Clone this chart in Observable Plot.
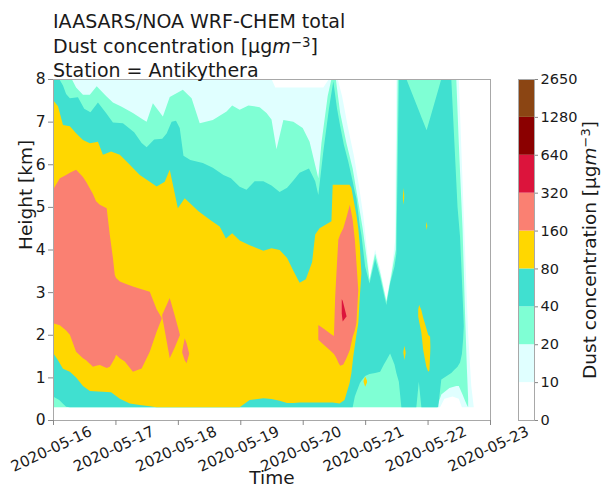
<!DOCTYPE html>
<html>
<head>
<meta charset="utf-8">
<script src="https://cdn.jsdelivr.net/npm/d3@7"></script>
<script src="https://cdn.jsdelivr.net/npm/@observablehq/plot@0.6"></script>
<style>
  html, body { margin: 0; padding: 0; background: white; }
  #wrap { position: relative; width: 607px; height: 492px; overflow: hidden; font-family: "DejaVu Sans", sans-serif; color: #1a1a1a; }
  #wrap svg { position: absolute; left: 0; top: 0; }
  #title { position: absolute; left: 53px; top: 9px; font-size: 19px; line-height: 24.5px; white-space: nowrap; }
  .sup { font-size: 0.7em; vertical-align: 0.45em; line-height: 0; }
  #cblabel { position: absolute; left: 589px; top: 250px; transform: translate(-50%, -50%) rotate(-90deg); font-size: 18.5px; white-space: nowrap; }
</style>
</head>
<body>
<div id="wrap"></div>
<script>
// ---------- data (days after 2020-05-16 00:00 UTC, height km) ----------
// each row: [day, lower height, upper height] of the region at or above a level
const xTickLabels = ["2020-05-16","2020-05-17","2020-05-18","2020-05-19","2020-05-20","2020-05-21","2020-05-22","2020-05-23"];
const yTicks = [0,1,2,3,4,5,6,7,8];
const cbLabels = ["0","10","20","40","80","160","320","640","1280","2650"];
const cbColors = ["#ffffff","#e0ffff","#7fffd4","#40e0d0","#ffd700","#fa8072","#dc143c","#8b0000","#8b4513"];

// >= 10
const band10 = [[0,0.3,8],[3.5,0.3,8],[3.56,0.3,7.8],[4.33,0.3,7.8],[4.42,0.3,8],[4.56,0.3,8],[4.63,0.3,7.6],[4.72,0.3,6.9],[4.82,0.3,6.2],[4.9,0.3,5.5],[4.97,0.3,4.8],[5.03,0.3,4.0],[5.07,0.3,3.32],[5.16,0.3,4.0],[5.24,0.3,3.55],[5.34,0.3,2.82],[5.42,0.3,3.5],[5.48,0.3,4.2],[5.5,0.3,8],[6.2,0.3,8],[6.27,0.5,8],[6.4,0.55,8],[6.5,0.5,8],[6.55,0.3,6],[6.6,0.3,4],[6.65,0.3,2],[6.7,0.3,0.8],[6.74,0.3,0.3]];
// >= 20
const band20 = [[0,0.3,8],[0.3,0.3,8],[0.37,0.3,7.8],[0.48,0.3,7.63],[0.59,0.3,7.63],[0.7,0.3,7.83],[0.85,0.3,7.6],[0.96,0.3,7.45],[1.1,0.3,7.35],[1.28,0.3,7.2],[1.44,0.3,7.05],[1.5,0.3,7.0],[1.6,0.3,7.43],[1.76,0.3,7.12],[1.87,0.3,7.58],[2.08,0.3,7.75],[2.22,0.3,7.55],[2.35,0.3,6.96],[2.56,0.3,7.04],[2.78,0.3,7.24],[2.87,0.3,7.38],[2.99,0.3,7.28],[3.13,0.3,7.38],[3.31,0.3,7.34],[3.42,0.3,7.2],[3.5,0.3,7.05],[3.58,0.3,6.35],[3.69,0.3,7.04],[3.85,0.3,7.0],[4.0,0.3,6.85],[4.11,0.3,6.53],[4.25,0.3,5.67],[4.3,0.3,6.5],[4.4,0.3,7.6],[4.46,0.3,8],[4.53,0.3,8],[4.6,0.3,7.2],[4.7,0.3,6.5],[4.8,0.3,5.9],[4.88,0.3,5.2],[4.96,0.3,4.5],[5.02,0.3,3.85],[5.07,0.3,3.28],[5.16,0.3,3.9],[5.24,0.3,3.45],[5.34,0.3,2.78],[5.42,0.3,3.4],[5.49,0.3,4.0],[5.52,0.3,8],[6.15,0.3,8],[6.22,0.6,8],[6.35,0.75,8],[6.46,0.8,8],[6.5,0.8,6.5],[6.56,0.6,4.5],[6.6,0.45,2.5],[6.63,0.35,1.2],[6.65,0.3,0.5]];
// >= 40
const band40 = [[0,0.55,8],[0.1,0.47,8],[0.16,0.38,7.85],[0.21,0.31,7.65],[0.27,0.3,7.55],[0.4,0.3,7.57],[0.5,0.3,7.3],[0.6,0.3,7.22],[0.72,0.3,7.45],[0.85,0.3,7.2],[0.96,0.3,6.98],[1.12,0.3,6.96],[1.3,0.3,6.75],[1.42,0.3,6.5],[1.5,0.3,6.4],[1.62,0.3,6.58],[1.75,0.3,6.6],[1.82,0.3,6.72],[1.9,0.3,7.0],[1.97,0.3,7.02],[2.03,0.3,6.85],[2.09,0.3,6.2],[2.2,0.3,6.1],[2.4,0.3,6.03],[2.56,0.3,5.92],[2.73,0.3,5.75],[2.85,0.3,5.67],[2.99,0.3,5.47],[3.1,0.3,5.4],[3.23,0.3,5.6],[3.37,0.3,5.6],[3.5,0.3,5.5],[3.63,0.3,5.35],[3.75,0.3,5.45],[3.85,0.3,5.62],[3.95,0.3,5.8],[4.1,0.3,5.9],[4.2,0.3,5.6],[4.25,0.3,5.28],[4.33,0.3,6.3],[4.42,0.3,7.3],[4.49,0.3,7.95],[4.55,0.3,7.3],[4.6,0.3,6.9],[4.66,0.3,6.45],[4.73,0.3,6.06],[4.8,0.3,5.6],[4.835,0.55,5.35],[4.86,0.65,5.2],[4.915,0.86,4.55],[4.94,0.92,4.34],[5.0,1.03,3.6],[5.07,1.08,3.2],[5.16,1.1,3.78],[5.24,1.13,3.35],[5.3,1.3,2.95],[5.34,1.4,2.7],[5.4,1.56,3.2],[5.47,1.3,3.6],[5.5,1.1,3.9],[5.54,0.9,8],[5.58,0.3,8],[5.66,0.3,8],[5.82,0.3,7.41],[5.86,0.9,7.26],[5.9,0.3,7.11],[5.985,0.3,6.8],[6.17,0.3,7.74],[6.22,0.95,8],[6.38,1.1,8],[6.43,1.18,6.5],[6.48,1.25,5.0],[6.52,1.35,4.3],[6.55,1.55,3.3],[6.57,1.9,2.6],[6.58,2.2,2.2]];
// >= 80 (main region)
const band80 = [[0,1.58,7.51],[0.08,1.4,7.36],[0.16,1.2,6.92],[0.27,1.13,6.89],[0.37,1.0,6.73],[0.48,0.8,6.57],[0.59,0.68,6.49],[0.72,0.67,6.53],[0.8,0.66,6.22],[0.93,0.65,6.3],[1.07,0.5,6.22],[1.23,0.39,5.99],[1.39,0.35,5.75],[1.55,0.32,5.59],[1.66,0.3,5.48],[1.79,0.3,5.59],[1.87,0.3,5.87],[2.0,0.3,4.97],[2.11,0.3,5.2],[2.33,0.3,4.9],[2.53,0.3,4.68],[2.67,0.3,4.54],[2.77,0.3,4.26],[2.87,0.3,4.38],[2.99,0.3,4.21],[3.15,0.47,4.1],[3.37,0.51,3.97],[3.5,0.49,4.03],[3.63,0.45,3.99],[3.75,0.4,3.8],[3.85,0.4,3.5],[3.95,0.41,3.22],[4.05,0.41,3.3],[4.15,0.41,3.7],[4.2,0.41,4.35],[4.27,0.41,4.5],[4.46,0.41,4.66],[4.48,0.41,5.52],[4.59,0.39,5.52],[4.67,0.47,5.52],[4.75,0.86,5.52],[4.78,1.1,5.44],[4.81,1.49,5.2],[4.86,2.0,4.81],[4.89,2.27,4.5],[4.915,2.9,4.1],[4.94,3.44,3.44]];
// >= 80 small patches: [patch, day, lower, upper]
const gold80Spots = [
  ["a",5.85,2.43,2.6],["a",5.866,2.3,2.7],["a",5.9,2.05,2.58],["a",5.93,1.64,2.4],["a",5.98,1.25,2.15],["a",6.01,1.13,2.0],["a",6.03,1.17,1.97],["a",6.04,1.5,1.96],["a",6.045,1.7,1.72],
  ["b",5.612,1.58,1.6],["b",5.63,1.41,1.74],["b",5.648,1.56,1.6],
  ["c",4.975,0.9,0.92],["c",5.0,0.78,1.02],["c",5.03,0.88,0.92],
  ["d",5.605,5.2,5.25],["d",5.615,5.05,5.44],["d",5.625,5.2,5.3],
  ["e",5.975,4.55,4.56],["e",5.985,4.46,4.65],["e",5.995,4.55,4.56]
];
// >= 160 patches: [patch, day, lower, upper]
const band160 = [
  ["a",0,2.27,5.4],["a",0.11,2.22,5.67],["a",0.21,2.1,5.75],["a",0.27,2.0,5.8],["a",0.37,1.6,5.87],["a",0.48,1.45,5.7],["a",0.53,1.4,5.59],["a",0.64,1.25,5.3],["a",0.69,1.27,5.13],["a",0.75,1.29,5.05],["a",0.86,1.22,4.97],["a",0.91,1.25,4.34],["a",0.96,1.37,3.8],["a",0.99,1.45,3.4],["a",1.01,1.53,3.33],["a",1.07,1.45,3.25],["a",1.15,1.37,3.2],["a",1.28,1.13,3.13],["a",1.42,1.21,3.07],["a",1.55,1.6,3.01],["a",1.66,2.07,2.6],["a",1.74,2.37,2.4],
  ["b",1.75,2.42,2.47],["b",1.87,1.45,2.86],["b",1.95,1.7,2.45],["b",2.03,1.98,2.02],
  ["c",2.07,1.58,1.62],["c",2.11,1.4,1.92],["c",2.14,1.33,1.8],["c",2.18,1.55,1.57],
  ["d",4.25,1.88,2.23],["d",4.35,1.75,2.13],["d",4.45,1.62,2.02],["d",4.5,1.55,1.97],["d",4.52,1.5,2.9],["d",4.54,1.45,3.44],["d",4.57,1.35,4.23],["d",4.6,1.27,4.35],["d",4.65,1.3,4.5],["d",4.7,1.45,4.75],["d",4.755,1.64,5.05],["d",4.8,1.95,4.7],["d",4.835,2.1,4.23],["d",4.86,2.27,3.7],["d",4.89,3.05,3.05]
];
// >= 320
const band320 = [[4.625,2.5,2.83],[4.64,2.31,2.8],[4.70,2.43,2.45]];

// ---------- drawing ----------
const t0 = Date.UTC(2020, 4, 16);
const toDate = d => new Date(t0 + d * 864e5);
const xTicks = xTickLabels.map(s => new Date(s + "T00:00:00Z"));

const band = (data, fill) => Plot.areaY(data, {x: d => toDate(d[0]), y1: d => d[1], y2: d => d[2], fill, curve: "linear"});
const patches = (data, fill) => Plot.areaY(data, {x: d => toDate(d[1]), y1: d => d[2], y2: d => d[3], z: d => d[0], fill, curve: "linear"});

const main = Plot.plot({
  width: 607, height: 492,
  marginLeft: 53, marginRight: 117, marginTop: 79, marginBottom: 72,
  x: {type: "utc", domain: [xTicks[0], xTicks[xTicks.length - 1]]},
  y: {domain: [0, 8]},
  style: {fontFamily: "DejaVu Sans", fontSize: "15px", color: "#1a1a1a", background: "white"},
  marks: [
    band(band10, cbColors[1]),
    band(band20, cbColors[2]),
    band(band40, cbColors[3]),
    band(band80, cbColors[4]),
    patches(gold80Spots, cbColors[4]),
    patches(band160, cbColors[5]),
    band(band320, cbColors[6]),
    Plot.frame({stroke: "#a8a8a8"}),
    Plot.axisY({ticks: yTicks, tickSize: 5, tickPadding: 3, label: null, stroke: "#888", fontSize: 15.5}),
    Plot.axisX({ticks: xTicks, tickSize: 5, tickFormat: () => "", label: null, stroke: "#888"}),
    Plot.text(xTicks, {x: d => d, text: (d, i) => xTickLabels[i], frameAnchor: "bottom", dy: 33, rotate: -25, textAnchor: "middle", fontSize: 15}),
    Plot.text(["Height [km]"], {frameAnchor: "left", dx: -27, rotate: -90, fontSize: 18.5}),
    Plot.text(["Time"], {frameAnchor: "bottom", dy: 63, fontSize: 18.5})
  ]
});

const cb = Plot.plot({
  width: 607, height: 492,
  marginLeft: 518, marginRight: 73, marginTop: 79, marginBottom: 72,
  x: {domain: [0, 1], axis: null},
  y: {domain: [0, 9], axis: null},
  style: {fontFamily: "DejaVu Sans", fontSize: "14px", color: "#1a1a1a", background: "transparent"},
  marks: [
    Plot.rect(cbColors, {x1: 0, x2: 1, y1: (d, i) => i, y2: (d, i) => i + 1, fill: d => d}),
    Plot.frame({stroke: "#a8a8a8"}),
    Plot.axisY({anchor: "right", ticks: d3.range(cbLabels.length), tickFormat: i => cbLabels[i], tickSize: 3, tickPadding: 3, label: null, stroke: "#888", fontSize: 14.5})
  ]
});

const wrap = document.getElementById("wrap");
wrap.appendChild(main);
wrap.appendChild(cb);

const title = document.createElement("div");
title.id = "title";
title.innerHTML = 'IAASARS/NOA WRF-CHEM total<br>Dust concentration [μg<i>m</i><span class="sup">−3</span>]<br>Station = Antikythera';
wrap.appendChild(title);

const cbl = document.createElement("div");
cbl.id = "cblabel";
cbl.innerHTML = 'Dust concentration [μg<i>m</i><span class="sup">−3</span>]';
wrap.appendChild(cbl);
</script>
</body>
</html>
